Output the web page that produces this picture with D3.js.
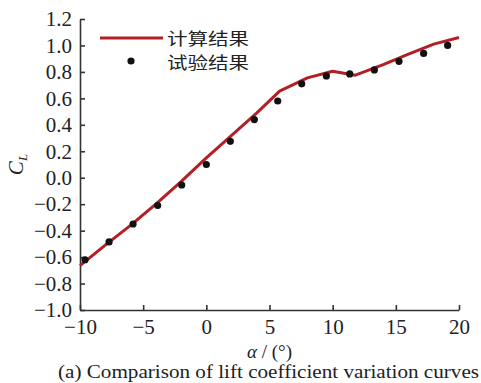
<!DOCTYPE html>
<html>
<head>
<meta charset="utf-8">
<script src="https://cdn.jsdelivr.net/npm/d3@7"></script>
<style>
  body { margin: 0; background: #fff; }
  svg { display: block; }
</style>
</head>
<body>
<div id="chart"></div>
<script>
// calculated curve (计算结果)
var calcAlpha = [-10, -8, -6, -4, -2, 0, 2, 4, 5.8, 8, 10, 11.8, 14, 16, 18, 20];
var calcCL    = [-0.665, -0.51, -0.36, -0.2, -0.03, 0.15, 0.32, 0.49, 0.655, 0.755, 0.805, 0.775, 0.855, 0.935, 1.01, 1.06];

// test points (试验结果)
var testAlpha = [-9.6, -7.7, -5.8, -3.85, -1.95, 0, 1.9, 3.8, 5.65, 7.55, 9.5, 11.35, 13.3, 15.25, 17.2, 19.1];
var testCL    = [-0.62, -0.485, -0.35, -0.21, -0.055, 0.1, 0.275, 0.44, 0.58, 0.71, 0.77, 0.785, 0.815, 0.88, 0.94, 1.0];

var xTicks = [-10, -5, 0, 5, 10, 15, 20];
var yTicks = [-1.0, -0.8, -0.6, -0.4, -0.2, 0.0, 0.2, 0.4, 0.6, 0.8, 1.0, 1.2];
var legendNames = ["计算结果", "试验结果"];

var width = 481, height = 383;
var margin = { top: 19, right: 22, bottom: 73, left: 80 };
var w = width - margin.left - margin.right;
var h = height - margin.top - margin.bottom;
var serif = "'Liberation Serif', 'Times New Roman', serif";

var svg = d3.select("#chart").append("svg")
    .attr("width", width)
    .attr("height", height);

var g = svg.append("g")
    .attr("transform", "translate(" + margin.left + "," + margin.top + ")");

var x = d3.scaleLinear().domain([-10, 20]).range([0, w]);
var y = d3.scaleLinear().domain([-1, 1.2]).range([h, 0]);

// axes, ticks pointing inward
var xAxis = g.append("g")
    .attr("transform", "translate(0," + h + ")")
    .call(d3.axisBottom(x).tickValues(xTicks).tickSizeInner(-5).tickSizeOuter(0).tickPadding(9)
        .tickFormat(function(d) { return d < 0 ? "\u2212" + Math.abs(d) : d; }));

var yAxis = g.append("g")
    .call(d3.axisLeft(y).tickValues(yTicks).tickSizeInner(-5).tickSizeOuter(0).tickPadding(8)
        .tickFormat(function(d) {
            var s = Math.abs(d).toFixed(1);
            return d < -1e-9 ? "\u2212" + s : s;
        }));

[xAxis, yAxis].forEach(function(a) {
    a.attr("font-family", serif).attr("font-size", 21);
    a.selectAll("path, line").attr("stroke", "#333").attr("stroke-width", 1.6);
    a.selectAll("text").attr("fill", "#222")
        .style("font-family", serif).style("font-size", "21px");
});

// calculated line
var line = d3.line()
    .x(function(d) { return x(d[0]); })
    .y(function(d) { return y(d[1]); });

g.append("path")
    .datum(d3.zip(calcAlpha, calcCL))
    .attr("d", line)
    .attr("fill", "none")
    .attr("stroke", "#b31f24")
    .attr("stroke-width", 3)
    .attr("stroke-linejoin", "round");

// test points
g.selectAll("circle.pt")
    .data(d3.zip(testAlpha, testCL))
    .enter()
    .append("circle")
    .attr("class", "pt")
    .attr("cx", function(d) { return x(d[0]); })
    .attr("cy", function(d) { return y(d[1]); })
    .attr("r", 3.6)
    .attr("fill", "#111");

// legend
var leg = svg.append("g");
leg.append("line")
    .attr("x1", 100).attr("x2", 163)
    .attr("y1", 38).attr("y2", 38)
    .attr("stroke", "#b31f24").attr("stroke-width", 3);
leg.append("circle")
    .attr("cx", 131).attr("cy", 61).attr("r", 3.6).attr("fill", "#111");
leg.selectAll("text")
    .data(legendNames)
    .enter()
    .append("text")
    .attr("x", 167)
    .attr("y", function(d, i) { return 45 + i * 24; })
    .attr("fill", "#222")
    .attr("textLength", 82)
    .attr("lengthAdjust", "spacingAndGlyphs")
    .style("font-family", "'Noto Sans CJK SC', sans-serif")
    .style("font-size", "16.5px")
    .text(function(d) { return d; });

// axis titles
var xt = svg.append("text")
    .attr("x", margin.left + w / 2)
    .attr("y", 358)
    .attr("text-anchor", "middle")
    .attr("fill", "#222")
    .style("font-family", serif)
    .style("font-size", "19px");
xt.append("tspan").style("font-style", "italic").text("\u03b1");
xt.append("tspan").text(" / (\u00b0)");

var yt = svg.append("text")
    .attr("transform", "translate(23," + (margin.top + h / 2) + ") rotate(-90)")
    .attr("text-anchor", "middle")
    .attr("fill", "#222")
    .style("font-family", serif)
    .style("font-size", "21px");
yt.append("tspan").style("font-style", "italic").text("C");
yt.append("tspan").style("font-style", "italic").style("font-size", "13px").attr("dy", 4).text("L");

// caption
svg.append("text")
    .attr("x", 58)
    .attr("y", 378)
    .attr("fill", "#222")
    .attr("textLength", 421)
    .attr("lengthAdjust", "spacingAndGlyphs")
    .style("font-family", serif)
    .style("font-size", "19px")
    .text("(a) Comparison of lift coefficient variation curves");
</script>
</body>
</html>
